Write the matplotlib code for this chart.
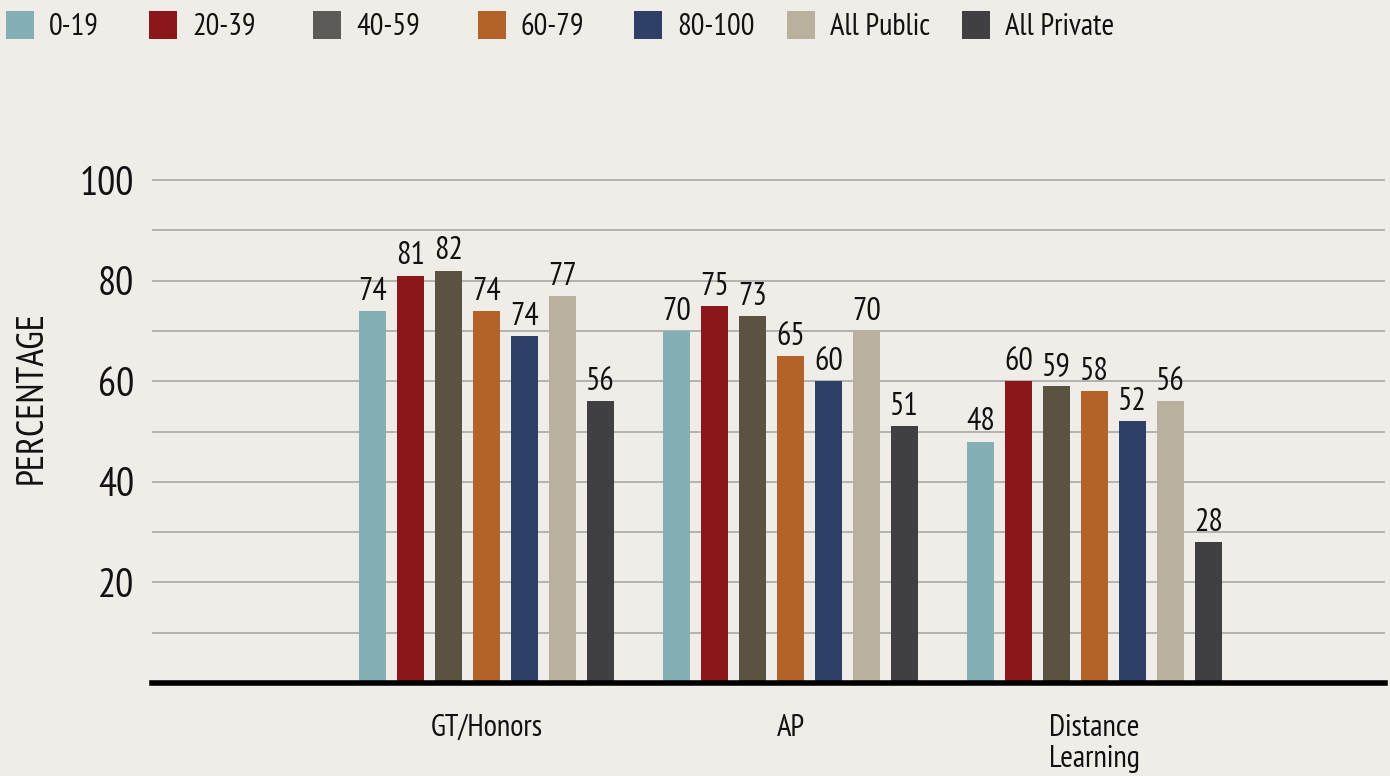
import matplotlib
matplotlib.use("Agg")
import matplotlib.pyplot as plt
from matplotlib.patches import Rectangle
import numpy as np

plt.rcParams['font.family'] = ['PT Sans Narrow', 'DejaVu Sans']

categories = ["GT/Honors", "AP", "Distance\nLearning"]
series = ["0-19", "20-39", "40-59", "60-79", "80-100", "All Public", "All Private"]
# bar heights as drawn
heights = [
    [74, 70, 48],
    [81, 75, 60],
    [82, 73, 59],
    [74, 65, 58],
    [69, 60, 52],
    [77, 70, 56],
    [56, 51, 28],
]
# printed value labels
labels = [
    [74, 70, 48],
    [81, 75, 60],
    [82, 73, 59],
    [74, 65, 58],
    [74, 60, 52],
    [77, 70, 56],
    [56, 51, 28],
]
bar_colors = ["#84AFB4", "#8B171B", "#5A5341", "#B5622A", "#2F4068", "#B9B09D", "#404042"]
legend_colors = ["#84AFB4", "#8B171B", "#5D5B58", "#B5622A", "#2F4068", "#B9B09D", "#404042"]
bg = "#F0EDE8"

W, H = 1390, 776
fig = plt.figure(figsize=(W/100, H/100), dpi=100, facecolor=bg)
top_px = 179
ax = fig.add_axes([152/W, 1-683/H, (1385-152)/W, (683-top_px)/H])
ax.set_facecolor(bg)

x = np.arange(len(categories))
step = 0.125
width = 0.089
n = len(series)
for i in range(n):
    pos = x + (i - (n-1)/2) * step
    bars = ax.bar(pos, heights[i], width=width, color=bar_colors[i], zorder=3)
    ax.bar_label(bars, labels=[str(v) for v in labels[i]], padding=3,
                 fontsize=23, color="#111111")

ax.set_xlim(-1.1, 2.955)
ax.set_ylim(0, 100.2)
ax.set_yticks(np.arange(10, 101, 10))
ax.set_yticklabels(["" if v % 20 else str(v) for v in range(10, 101, 10)])
ax.yaxis.grid(True, color="#ADADAD", lw=1.3, zorder=0)
ax.tick_params(axis='y', length=0, pad=13, labelsize=29, labelcolor="#111111")
ax.set_xticks(x)
ax.set_xticklabels(categories, fontsize=22, linespacing=1.15, va='top')
ax.tick_params(axis='x', length=0, pad=22, labelcolor="#111111")
for s in ["left", "right", "top"]:
    ax.spines[s].set_visible(False)
ax.spines["bottom"].set_linewidth(4)
ax.spines["bottom"].set_color("black")
ax.spines["bottom"].set_zorder(5)

fig.text(32/W, 1-398/H, "PERCENTAGE", rotation=90, fontsize=27,
         ha='center', va='center', color="#111111")

# manual legend (layout positions in pixels)
leg_x = [6, 149, 313, 478, 634, 787, 962]
for lx, c, s in zip(leg_x, legend_colors, series):
    fig.patches.append(Rectangle((lx/W, 1-39/H), 28/W, 28/H, transform=fig.transFigure,
                                 facecolor=c, edgecolor='none'))
    fig.text((lx+43)/W, 1-35/H, s, fontsize=22, ha='left', va='baseline', color="#111111")

fig.savefig("out.png", dpi=100, facecolor=bg)
